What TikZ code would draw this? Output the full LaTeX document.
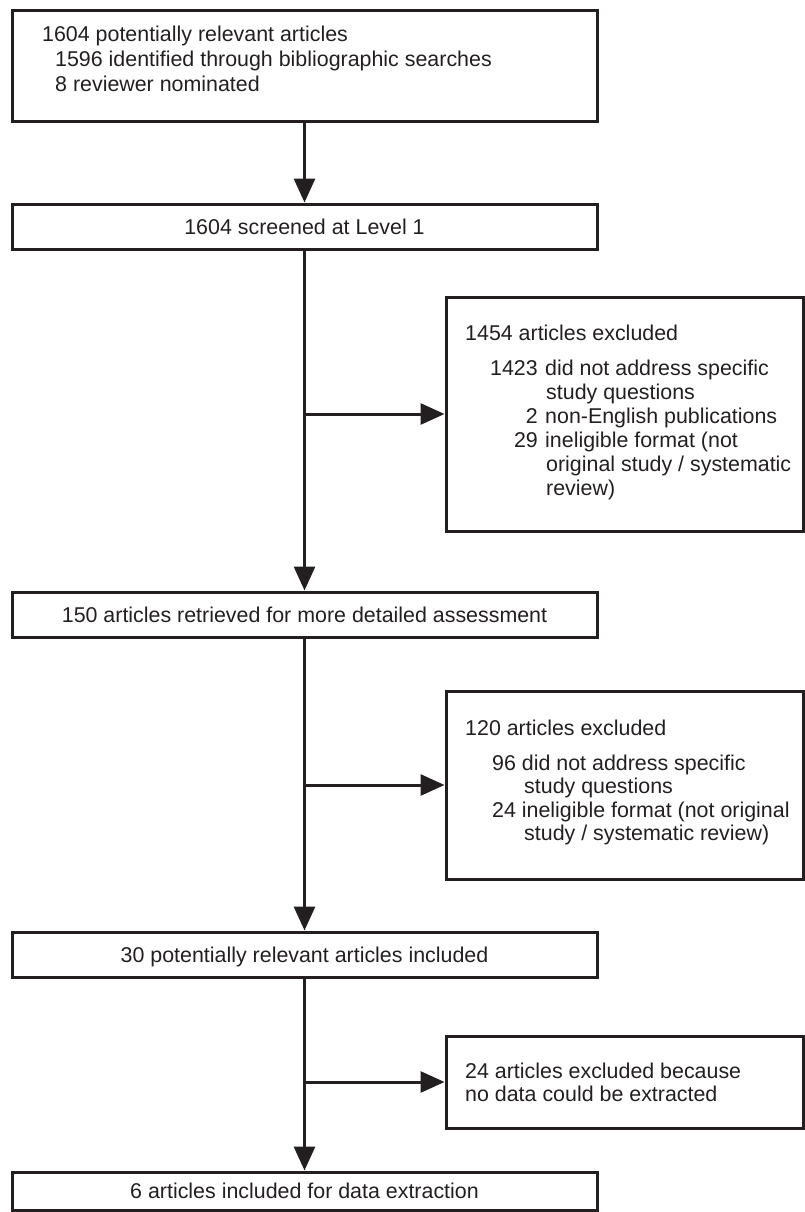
\documentclass[tikz,border=0pt]{standalone}
\usepackage{fontspec}
\setmainfont{Liberation Sans}
\usetikzlibrary{arrows.meta}
\definecolor{ink}{RGB}{35,31,32}
\begin{document}
\begin{tikzpicture}[x=1pt,y=-1pt,
  box/.style={draw=ink, line width=3pt, rectangle, inner sep=0pt},
  txt/.style={font=\fontsize{21.4}{24.5}\selectfont, text=ink, inner sep=0pt},
  ctr/.style={txt, text height=15.3pt, text depth=0pt},
  lft/.style={txt, anchor=base west},
  rgt/.style={txt, anchor=base east},
  arr/.style={draw=ink, line width=3pt, -{Triangle[length=24pt,width=21pt]}}]
\useasboundingbox (0,0) rectangle (805,1212);

% left column boxes
\node[box, minimum width=585pt, minimum height=111pt] (b1) at (304.5,66.5) {};
\node[lft] (b1a) at (42,42) {1604 potentially relevant articles};
\node[lft] (b1b) at (55,67) {1596 identified through bibliographic searches};
\node[lft] (b1c) at (55,92) {8 reviewer nominated};

\node[box, ctr, minimum width=585pt, minimum height=45pt] (b2) at (304.5,226.5) {1604 screened at Level 1};
\node[box, ctr, minimum width=585pt, minimum height=45pt] (b3) at (304.5,614.5) {150 articles retrieved for more detailed assessment};
\node[box, ctr, minimum width=585pt, minimum height=45pt] (b4) at (304.5,954.5) {30 potentially relevant articles included};
\node[box, ctr, minimum width=585pt, minimum height=38pt] (b5) at (304.5,1191) {6 articles included for data extraction};

% right column boxes
\node[box, minimum width=357pt, minimum height=234pt] (r1) at (624.5,414) {};
\node[lft] (r1h) at (465,340) {1454 articles excluded};
\node[rgt] (r1n1) at (538,375) {1423};
\node[lft] (r1t1) at (545,375) {did not address specific};
\node[lft] (r1t1b) at (546,399) {study questions};
\node[rgt] (r1n2) at (538,423) {2};
\node[lft] (r1t2) at (545,423) {non-English publications};
\node[rgt] (r1n3) at (538,447) {29};
\node[lft] (r1t3) at (545,447) {ineligible format (not};
\node[lft] (r1t3b) at (546,471) {original study / systematic};
\node[lft] (r1t3c) at (546,495) {review)};

\node[box, minimum width=357pt, minimum height=188pt] (r2) at (624.5,785) {};
\node[lft] (r2h) at (465,735) {120 articles excluded};
\node[lft] (r2t1) at (492,770) {96 did not address specific};
\node[lft] (r2t1b) at (524,793) {study questions};
\node[lft] (r2t2) at (492,817) {24 ineligible format (not original};
\node[lft] (r2t2b) at (524,840) {study / systematic review)};

\node[box, minimum width=357pt, minimum height=92pt] (r3) at (624.5,1082) {};
\node[lft] (r3a) at (465,1078) {24 articles excluded because};
\node[lft] (r3b) at (465,1101) {no data could be extracted};

% junctions
\coordinate (j1) at (304.5,414);
\coordinate (j2) at (304.5,785);
\coordinate (j3) at (304.5,1082);

% connectors
\draw[arr] (b1.south) -- (b2.north);
\draw[arr] (b2.south) -- (b3.north);
\draw[arr] (b3.south) -- (b4.north);
\draw[arr] (b4.south) -- (b5.north);
\draw[arr] (j1) -- (r1.west);
\draw[arr] (j2) -- (r2.west);
\draw[arr] (j3) -- (r3.west);
\end{tikzpicture}
\end{document}
